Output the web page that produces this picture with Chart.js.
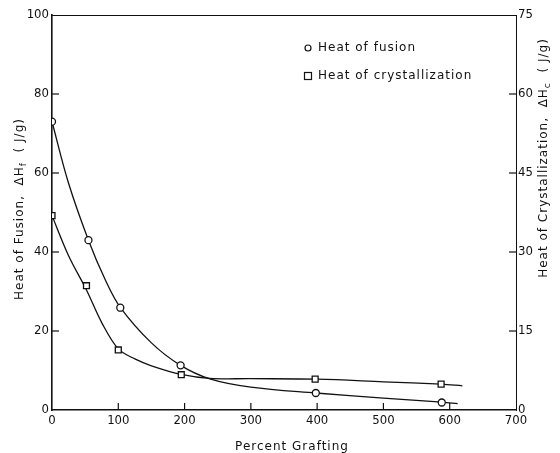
<!DOCTYPE html>
<html>
<head>
<meta charset="utf-8">
<script src="https://cdn.jsdelivr.net/npm/chart.js@4"></script>
<style>
  html, body { margin: 0; padding: 0; background: #fff; }
  #wrap { width: 560px; height: 453px; }
</style>
</head>
<body>
<div id="wrap"><canvas id="chart"></canvas></div>
<script>
// measured points (percent grafting)
const fusionX = [0, 55, 103, 194, 398, 588];
const fusionY = [73, 43, 25.9, 11.3, 4.3, 1.9];          // J/g, left axis
const crystX = [0, 52, 100, 195, 397, 587];
const crystY = [36.9, 23.6, 11.4, 6.7, 5.85, 4.9];      // J/g, right axis

// smooth fitted curves
const fusionCurveX = [0, 25, 55, 80, 103, 150, 194, 238, 300, 398, 500, 588, 612];
const fusionCurveY = [73, 57.4, 43, 33.1, 26, 17, 11.3, 7.9, 5.8, 4.3, 3.0, 2.0, 1.6];
const crystCurveX = [0, 25, 52, 75, 100, 125, 150, 195, 238, 300, 400, 500, 587, 619];
const crystCurveY = [36.9, 29.3, 22.8, 16.6, 11.6, 9.7, 8.4, 6.75, 6.0, 5.95, 5.85, 5.35, 4.9, 4.6];

const seriesNames = ['Heat of fusion', 'Heat of crystallization'];
const xTitle = 'Percent Grafting';
const leftTitle = [['Heat of Fusion,  \u0394H', false], ['f', true], ['  ( J/g)', false]];
const rightTitle = [['Heat of Crystallization,  \u0394H', false], ['c', true], ['  ( J/g)', false]];

const FONT = '"DejaVu Sans", sans-serif';
const TICKFONT = '"Liberation Sans Narrow", "DejaVu Sans Condensed", "Liberation Sans", sans-serif';
Chart.defaults.font.family = TICKFONT;
Chart.defaults.font.size = 13;
Chart.defaults.color = '#111';

const pts = (xs, ys) => xs.map((x, i) => ({ x: x, y: ys[i] }));

// titles with subscripts
function drawParts(ctx, parts, size) {
  let w = 0;
  parts.forEach(p => {
    ctx.font = (p[1] ? size - 3 : size) + 'px ' + FONT;
    w += ctx.measureText(p[0]).width;
  });
  let x = -w / 2;
  parts.forEach(p => {
    ctx.font = (p[1] ? size - 3 : size) + 'px ' + FONT;
    ctx.fillText(p[0], x, p[1] ? 4 : 0);
    x += ctx.measureText(p[0]).width;
  });
}

const decor = {
  id: 'decor',
  afterDraw(chart) {
    const ctx = chart.ctx;
    const a = chart.chartArea;
    ctx.save();
    ctx.strokeStyle = '#111';
    ctx.fillStyle = '#111';
    // top frame line
    ctx.lineWidth = 1;
    ctx.beginPath();
    ctx.moveTo(a.left, a.top + 0.5);
    ctx.lineTo(a.right, a.top + 0.5);
    ctx.stroke();
    // inner ticks
    const sx = chart.scales.x, sy = chart.scales.y, sy2 = chart.scales.y2;
    ctx.lineWidth = 1.2;
    sx.ticks.forEach(t => {
      if (t.value === sx.min || t.value === sx.max) return;
      const px = sx.getPixelForValue(t.value);
      ctx.beginPath(); ctx.moveTo(px, a.bottom); ctx.lineTo(px, a.bottom - 7); ctx.stroke();
    });
    sy.ticks.forEach(t => {
      if (t.value === sy.min || t.value === sy.max) return;
      const py = sy.getPixelForValue(t.value);
      ctx.beginPath(); ctx.moveTo(a.left, py); ctx.lineTo(a.left + 7, py); ctx.stroke();
    });
    sy2.ticks.forEach(t => {
      if (t.value === sy2.min || t.value === sy2.max) return;
      const py = sy2.getPixelForValue(t.value);
      ctx.beginPath(); ctx.moveTo(a.right, py); ctx.lineTo(a.right - 7, py); ctx.stroke();
    });
    // axis titles
    ctx.letterSpacing = '1px';
    ctx.textBaseline = 'middle';
    ctx.font = '12px ' + FONT;
    ctx.textAlign = 'center';
    ctx.fillText(xTitle, 292, 447);
    ctx.textAlign = 'left';
    ctx.save(); ctx.translate(20, 209); ctx.rotate(-Math.PI / 2); drawParts(ctx, leftTitle, 12); ctx.restore();
    ctx.save(); ctx.translate(544, 158); ctx.rotate(-Math.PI / 2); drawParts(ctx, rightTitle, 12); ctx.restore();
    // legend
    ctx.font = '12px ' + FONT;
    ctx.lineWidth = 1.2;
    ctx.fillStyle = '#fff';
    ctx.beginPath(); ctx.arc(308, 48, 3, 0, Math.PI * 2); ctx.fill(); ctx.stroke();
    ctx.fillRect(304.5, 72.5, 7, 7); ctx.strokeRect(304.5, 72.5, 7, 7);
    ctx.fillStyle = '#111';
    ctx.fillText(chart.data.datasets[0].label, 318, 48);
    ctx.fillText(chart.data.datasets[1].label, 318, 76);
    ctx.restore();
  }
};

new Chart(document.getElementById('chart'), {
  type: 'scatter',
  data: {
    datasets: [
      {
        label: seriesNames[0],
        data: pts(fusionX, fusionY),
        yAxisID: 'y',
        pointStyle: 'circle',
        pointRadius: 3.5,
        pointBackgroundColor: '#fff',
        pointBorderColor: '#111',
        pointBorderWidth: 1.3,
        order: 0
      },
      {
        label: seriesNames[1],
        data: pts(crystX, crystY),
        yAxisID: 'y2',
        pointStyle: 'rect',
        pointRadius: 4.2,
        pointBackgroundColor: '#fff',
        pointBorderColor: '#111',
        pointBorderWidth: 1.3,
        order: 0
      },
      {
        label: 'fusion fit',
        data: pts(fusionCurveX, fusionCurveY),
        yAxisID: 'y',
        showLine: true,
        pointRadius: 0,
        borderColor: '#111',
        borderWidth: 1.3,
        tension: 0.35,
        order: 1
      },
      {
        label: 'crystallization fit',
        data: pts(crystCurveX, crystCurveY),
        yAxisID: 'y2',
        showLine: true,
        pointRadius: 0,
        borderColor: '#111',
        borderWidth: 1.3,
        tension: 0.35,
        order: 1
      }
    ]
  },
  options: {
    responsive: true,
    maintainAspectRatio: false,
    animation: false,
    layout: { padding: { top: 15, left: 0, right: 0, bottom: 0 } },
    plugins: { legend: { display: false }, tooltip: { enabled: false } },
    scales: {
      x: {
        type: 'linear', min: 0, max: 700,
        ticks: { stepSize: 100, padding: 3, color: '#111' },
        grid: { display: false, tickLength: 0 },
        border: { color: '#111', width: 1.6 },
        afterFit: s => { s.height = 43; }
      },
      y: {
        position: 'left', min: 0, max: 100,
        ticks: { stepSize: 20, padding: 3, color: '#111' },
        grid: { display: false, tickLength: 0 },
        border: { color: '#111', width: 1.6 },
        afterFit: s => { s.width = 52; }
      },
      y2: {
        position: 'right', min: 0, max: 75,
        ticks: { stepSize: 15, padding: 2, color: '#111' },
        grid: { display: false, tickLength: 0 },
        border: { color: '#111', width: 1 },
        afterFit: s => { s.width = 44; }
      }
    }
  },
  plugins: [decor]
});
</script>
</body>
</html>
